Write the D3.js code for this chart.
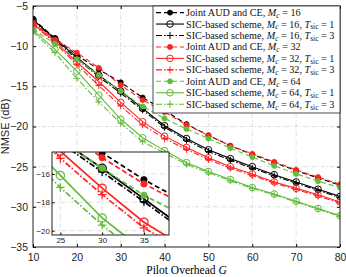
<!DOCTYPE html>
<html lang="en">
<head>
<meta charset="UTF-8">
<title>NMSE vs pilot overhead</title>
<style>
    body { margin: 0; background: #fff; }
    .tick text { font-family: "Liberation Sans", Arial, sans-serif; }
    .axis path.domain { display: none; }
</style>
</head>
<body>
<svg id="chart" width="346" height="277"></svg>
<script src="https://cdn.jsdelivr.net/npm/d3@7/dist/d3.min.js"></script>
<script>
// pilot overhead G
var pilot = [10, 15, 20, 25, 30, 35, 40, 45, 50, 55, 60, 65, 70, 75, 80];

// NMSE in dB
var joint16 = [-6.6, -9.0, -11.1, -12.9, -14.5, -16.4, -18.0, -19.7, -21.1, -22.4, -23.5, -24.5, -25.5, -26.4, -27.3];
var sic16t1 = [-6.7, -9.1, -11.4, -13.6, -15.6, -17.75, -19.9, -21.5, -22.9, -24.0, -25.0, -26.0, -26.9, -27.8, -28.7];
var sic16t3 = [-6.8, -9.2, -11.6, -13.8, -15.85, -17.95, -20.1, -21.7, -23.1, -24.2, -25.2, -26.15, -27.05, -27.95, -28.85];
var joint32 = [-7.1, -9.2, -10.8, -12.7, -14.85, -16.7, -18.2, -19.8, -21.1, -22.4, -23.4, -24.4, -25.4, -26.3, -27.2];
var sic32t1 = [-7.2, -9.4, -12.0, -14.4, -17.0, -19.4, -21.2, -22.6, -23.9, -25.0, -25.9, -26.9, -27.7, -28.5, -29.4];
var sic32t3 = [-7.3, -9.6, -12.3, -14.9, -17.45, -19.8, -21.5, -22.85, -24.1, -25.2, -26.1, -27.05, -27.85, -28.65, -29.55];
var joint64 = [-7.9, -9.7, -11.6, -13.6, -15.6, -17.5, -19.0, -20.3, -21.5, -22.7, -23.8, -24.9, -25.9, -26.8, -27.6];
var sic64t1 = [-8.0, -10.4, -13.1, -16.1, -19.1, -21.4, -23.0, -24.5, -25.6, -26.6, -27.6, -28.4, -29.3, -30.2, -31.1];
var sic64t3 = [-8.2, -10.8, -14.0, -16.95, -19.6, -21.9, -23.3, -24.7, -25.75, -26.75, -27.7, -28.5, -29.4, -30.3, -31.2];

var xTicks = [10, 20, 30, 40, 50, 60, 70, 80];
var yTicks = [-5, -10, -15, -20, -25, -30, -35];
var insetXTicks = [25, 30, 35];
var insetYTicks = [-16, -18, -20];

var black = "#000000", red = "#ff2222", green = "#62bb3a";

var series = [
    {values: joint16, color: black, kind: "joint", mc: 16},
    {values: sic16t1, color: black, kind: "t1", mc: 16, t: 1},
    {values: sic16t3, color: black, kind: "t3", mc: 16, t: 3},
    {values: joint32, color: red, kind: "joint", mc: 32},
    {values: sic32t1, color: red, kind: "t1", mc: 32, t: 1},
    {values: sic32t3, color: red, kind: "t3", mc: 32, t: 3},
    {values: joint64, color: green, kind: "joint", mc: 64},
    {values: sic64t1, color: green, kind: "t1", mc: 64, t: 1},
    {values: sic64t3, color: green, kind: "t3", mc: 64, t: 3}
];
var dashes = {joint: "5,3", t1: null, t3: "6,2,1.5,2"};

var svg = d3.select("#chart");
var serif = "'Liberation Serif', 'Times New Roman', serif";
var sans = "'Liberation Sans', Arial, sans-serif";

var x = d3.scaleLinear().domain([10, 80]).range([33, 340]);
var y = d3.scaleLinear().domain([-35, -5]).range([247, 6]);

function drawMarker(g, kind, cx, cy, color, s) {
    if (kind === "joint") {
        g.append("circle").attr("cx", cx).attr("cy", cy).attr("r", 2.6 * s)
            .attr("fill", color).attr("stroke", color).attr("stroke-width", 0.6);
    } else if (kind === "t1") {
        g.append("circle").attr("cx", cx).attr("cy", cy).attr("r", 3.3 * s)
            .attr("fill", "none").attr("stroke", color).attr("stroke-width", 1 * s);
    } else {
        var h = 3.4 * s;
        g.append("path").attr("d", "M" + (cx - h) + "," + cy + "H" + (cx + h) + "M" + cx + "," + (cy - h) + "V" + (cy + h))
            .attr("stroke", color).attr("stroke-width", 1 * s).attr("fill", "none");
    }
}

function drawPanel(g, xs, ys, clipId, lw, ms, gridTicksX, gridTicksY, box) {
    // grid
    g.append("g").selectAll("line.gx").data(gridTicksX).enter().append("line")
        .attr("x1", function (d) { return xs(d); }).attr("x2", function (d) { return xs(d); })
        .attr("y1", box.y0).attr("y2", box.y1)
        .attr("stroke", "#cfcfcf").attr("stroke-width", 0.7).attr("stroke-dasharray", "4,2,1,2");
    g.append("g").selectAll("line.gy").data(gridTicksY).enter().append("line")
        .attr("y1", function (d) { return ys(d); }).attr("y2", function (d) { return ys(d); })
        .attr("x1", box.x0).attr("x2", box.x1)
        .attr("stroke", "#cfcfcf").attr("stroke-width", 0.7).attr("stroke-dasharray", "4,2,1,2");

    var plot = g.append("g").attr("clip-path", "url(#" + clipId + ")");
    var line = d3.line().x(function (d, i) { return xs(pilot[i]); }).y(function (d) { return ys(d); });
    series.forEach(function (s) {
        plot.append("path").datum(s.values)
            .attr("d", line).attr("fill", "none")
            .attr("stroke", s.color).attr("stroke-width", lw)
            .attr("stroke-dasharray", dashes[s.kind]);
        s.values.forEach(function (v, i) {
            drawMarker(plot, s.kind, xs(pilot[i]), ys(v), s.color, ms);
        });
    });
}

var defs = svg.append("defs");
defs.append("clipPath").attr("id", "mainClip").append("rect")
    .attr("x", 33).attr("y", 6).attr("width", 307).attr("height", 241);

var main = svg.append("g");
drawPanel(main, x, y, "mainClip", 1.1, 1, xTicks.slice(1, -1), yTicks.slice(1, -1),
    {x0: 33, x1: 340, y0: 6, y1: 247});

// axes, ticks pointing inward
main.append("g").attr("class", "axis").attr("transform", "translate(0,247)")
    .call(d3.axisBottom(x).tickValues(xTicks).tickSize(-3).tickPadding(7))
    .call(function (a) { a.selectAll("text").attr("font-size", 10.5).attr("fill", "#222"); });
main.append("g").attr("class", "axis").attr("transform", "translate(33,0)")
    .call(d3.axisLeft(y).tickValues(yTicks).tickSize(-3).tickPadding(5).tickFormat(d3.format("d")))
    .call(function (a) { a.selectAll("text").attr("font-size", 10.5).attr("fill", "#222"); });
main.append("g").attr("class", "axis").attr("transform", "translate(0,6)")
    .call(d3.axisTop(x).tickValues(xTicks).tickSize(-3).tickFormat(""));
main.append("g").attr("class", "axis").attr("transform", "translate(340,0)")
    .call(d3.axisRight(y).tickValues(yTicks).tickSize(-3).tickFormat(""));
main.append("rect").attr("x", 33).attr("y", 6).attr("width", 307).attr("height", 241)
    .attr("fill", "none").attr("stroke", "#222").attr("stroke-width", 1);

// axis titles
main.append("text").attr("x", 186.5).attr("y", 274)
    .attr("text-anchor", "middle").attr("font-family", serif).attr("font-size", 11.5)
    .text("Pilot Overhead ")
    .append("tspan").attr("font-style", "italic").text("G");
main.append("text").attr("transform", "translate(9,126.5) rotate(-90)")
    .attr("text-anchor", "middle").attr("font-family", sans).attr("font-size", 11).attr("fill", "#222")
    .text("NMSE (dB)");

// legend
var leg = svg.append("g");
leg.append("rect").attr("x", 153).attr("y", 6).attr("width", 187).attr("height", 107)
    .attr("fill", "#fff").attr("stroke", "#222").attr("stroke-width", 0.8);
series.forEach(function (s, i) {
    var ly = 12.6 + i * 11.45;
    leg.append("line").attr("x1", 156).attr("x2", 184).attr("y1", ly).attr("y2", ly)
        .attr("stroke", s.color).attr("stroke-width", 1.1).attr("stroke-dasharray", dashes[s.kind]);
    drawMarker(leg, s.kind, 170, ly, s.color, 1);
    var t = leg.append("text").attr("x", 186).attr("y", ly + 3.5)
        .attr("font-family", serif).attr("font-size", 10.2).attr("fill", "#111");
    t.append("tspan").text(s.kind === "joint" ? "Joint AUD and CE, " : "SIC-based scheme, ");
    t.append("tspan").attr("font-style", "italic").text("M");
    t.append("tspan").attr("font-style", "italic").attr("font-size", 7.4).attr("dy", 1.8).text("c");
    t.append("tspan").attr("dy", -1.8).text(" = " + s.mc + (s.kind === "joint" ? "" : ", "));
    if (s.kind !== "joint") {
        t.append("tspan").attr("font-style", "italic").text("T");
        t.append("tspan").attr("font-size", 7.4).attr("dy", 1.8).text("sic");
        t.append("tspan").attr("dy", -1.8).text(" = " + s.t);
    }
});

// inset zoom
var ix = d3.scaleLinear().domain([24, 38]).range([52, 169]);
var iy = d3.scaleLinear().domain([-20.3, -14.45]).range([235, 152]);
defs.append("clipPath").attr("id", "insetClip").append("rect")
    .attr("x", 52).attr("y", 152).attr("width", 117).attr("height", 83);
var inset = svg.append("g");
inset.append("rect").attr("x", 52).attr("y", 152).attr("width", 117).attr("height", 83).attr("fill", "#fff");
drawPanel(inset, ix, iy, "insetClip", 1.7, 1.25, insetXTicks, insetYTicks,
    {x0: 52, x1: 169, y0: 152, y1: 235});
inset.append("g").attr("class", "axis").attr("transform", "translate(0,235)")
    .call(d3.axisBottom(ix).tickValues(insetXTicks).tickSize(-2.5).tickPadding(2))
    .call(function (a) { a.selectAll("text").attr("font-size", 8).attr("fill", "#222"); });
inset.append("g").attr("class", "axis").attr("transform", "translate(52,0)")
    .call(d3.axisLeft(iy).tickValues(insetYTicks).tickSize(-2.5).tickPadding(2).tickFormat(d3.format("d")))
    .call(function (a) { a.selectAll("text").attr("font-size", 8).attr("fill", "#222"); });
inset.append("rect").attr("x", 52).attr("y", 152).attr("width", 117).attr("height", 83)
    .attr("fill", "none").attr("stroke", "#222").attr("stroke-width", 1);
</script>
</body>
</html>
